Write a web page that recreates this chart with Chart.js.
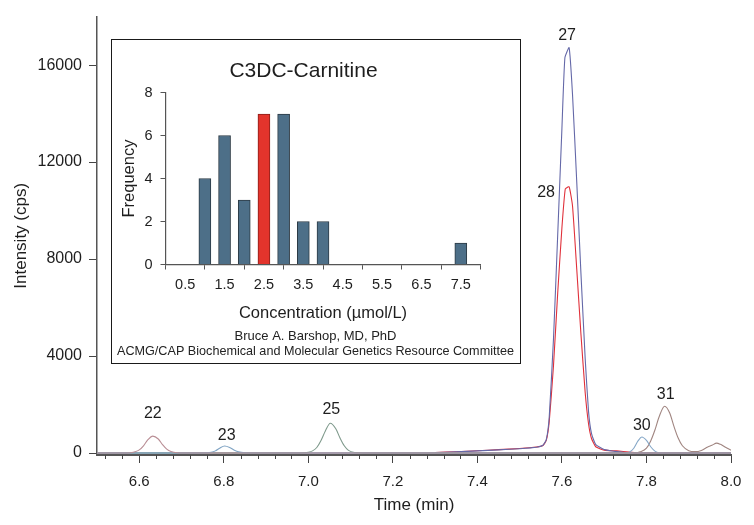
<!DOCTYPE html>
<html><head><meta charset="utf-8">
<script src="https://cdn.jsdelivr.net/npm/chart.js@4.4.1/dist/chart.umd.min.js"></script>
<style>
html,body{margin:0;padding:0;background:#fff;}
#wrap{position:relative;width:754px;height:525px;overflow:hidden;}
#main{position:absolute;left:0;top:0;}
#insetBox{position:absolute;left:111px;top:39px;width:410px;height:325px;border:1.5px solid #1a1a1a;box-sizing:border-box;background:#fff;}
#inset{position:absolute;left:0;top:0;}
</style></head>
<body>
<div id="wrap">
<canvas id="main" width="754" height="525"></canvas>
<div id="insetBox"><canvas id="inset" width="407" height="322"></canvas></div>
</div>
<script>
// ---------- Main chromatogram data ----------
const timeTicks = [6.6, 6.8, 7.0, 7.2, 7.4, 7.6, 7.8, 8.0];
const intensityTicks = [0, 4000, 8000, 12000, 16000];

const t22 = [6.50, 6.56, 6.58, 6.59, 6.60, 6.61, 6.62, 6.632, 6.645, 6.655, 6.665, 6.675, 6.69, 6.72, 8.00];
const i22 = [0, 0, 15, 50, 130, 300, 540, 700, 580, 350, 160, 60, 12, 0, 0];

const t23 = [6.50, 6.75, 6.77, 6.78, 6.79, 6.802, 6.815, 6.825, 6.835, 6.85, 6.87, 8.00];
const i23 = [0, 0, 30, 90, 200, 290, 220, 120, 50, 10, 0, 0];

const t25 = [6.50, 6.98, 7.00, 7.01, 7.02, 7.03, 7.04, 7.052, 7.065, 7.075, 7.085, 7.095, 7.11, 7.13, 8.00];
const i25 = [0, 0, 30, 90, 230, 520, 900, 1230, 1000, 620, 300, 110, 20, 0, 0];

const t27 = [7.30, 7.35, 7.40, 7.45, 7.50, 7.54, 7.555, 7.563, 7.570, 7.580, 7.590, 7.600, 7.607, 7.617, 7.625, 7.635, 7.645, 7.655, 7.663, 7.670, 7.68, 7.70, 7.73, 7.76, 8.00];
const i27 = [20, 50, 90, 130, 180, 240, 320, 550, 1500, 4700, 9000, 13400, 16300, 16720, 14800, 11200, 7400, 3900, 1700, 800, 350, 150, 60, 0, 0];

const t28 = [7.30, 7.35, 7.40, 7.45, 7.50, 7.54, 7.555, 7.563, 7.570, 7.580, 7.590, 7.600, 7.608, 7.617, 7.625, 7.635, 7.645, 7.655, 7.663, 7.670, 7.68, 7.70, 7.73, 7.76, 7.78, 8.00];
const i28 = [25, 55, 95, 140, 190, 250, 310, 520, 1300, 3600, 6600, 9300, 10900, 10980, 10200, 7600, 4900, 2500, 1200, 600, 260, 120, 90, 40, 0, 0];

const t30 = [6.50, 7.75, 7.76, 7.77, 7.78, 7.789, 7.80, 7.81, 7.82, 7.83, 7.85, 8.00];
const i30 = [0, 0, 40, 200, 500, 660, 520, 260, 80, 15, 0, 0];

const t31 = [6.50, 7.77, 7.785, 7.80, 7.81, 7.82, 7.83, 7.843, 7.855, 7.865, 7.875, 7.885, 7.90, 7.915, 7.93, 7.945, 7.955, 7.966, 7.975, 7.988, 8.00];
const i31 = [0, 0, 50, 200, 500, 950, 1500, 1930, 1650, 1100, 620, 300, 100, 60, 110, 250, 320, 410, 360, 230, 120];

const peakNames = ['22', '23', '25', '27', '28', '30', '31'];
const peakTimes = [6.632, 6.802, 7.052, 7.617, 7.617, 7.789, 7.843];
const peakHeights = [700, 290, 1230, 16720, 10980, 660, 1930];

// ---------- Inset histogram data ----------
const concBins = [1.0, 1.5, 2.0, 2.5, 3.0, 3.5, 4.0, 7.5];
const frequencies = [4, 6, 3, 7, 7, 2, 2, 1];
const patientBin = 2.5;
const concTicks = [0.5, 1.5, 2.5, 3.5, 4.5, 5.5, 6.5, 7.5];
const freqTicks = [0, 2, 4, 6, 8];
const insetTitle = 'C3DC-Carnitine';
const creditLines = ['Bruce A. Barshop, MD, PhD', 'ACMG/CAP Biochemical and Molecular Genetics Resource Committee'];

// ---------- Styling ----------
const FONT = "'Liberation Sans', Arial, Helvetica, sans-serif";
Chart.defaults.font.family = FONT;
Chart.defaults.color = '#1e1e1e';

const traceStyles = [
  {t: t22, v: i22, color: '#b98e95', tension: 0},
  {t: t23, v: i23, color: '#7fa3c3', tension: 0},
  {t: t25, v: i25, color: '#7f9a8c', tension: 0},
  {t: t30, v: i30, color: '#86a8c8', tension: 0},
  {t: t31, v: i31, color: '#a08580', tension: 0},
  {t: t27, v: i27, color: '#6468a8', tension: 0.15},
  {t: t28, v: i28, color: '#e0303a', tension: 0.15}
];

const labelOffsets = [[0,-22],[2,-10],[1,-14],[-2,-12],[-23,6],[0,-11],[1,-12]];

const minorTicksPlugin = {
  id: 'minorTicks',
  afterDraw(chart) {
    const xs = chart.scales.x, ctx = chart.ctx, y0 = chart.chartArea.bottom;
    ctx.save();
    ctx.strokeStyle = '#444'; ctx.lineWidth = 1;
    for (let k = -3; k <= 35; k++) {
      const v = 6.6 + k * 0.04;
      if (v < 6.5 - 1e-9 || v > 8.0 + 1e-9 || k % 5 === 0) continue;
      const px = Math.round(xs.getPixelForValue(v)) + 0.5;
      ctx.beginPath(); ctx.moveTo(px, y0); ctx.lineTo(px, y0 + 4); ctx.stroke();
    }
    ctx.restore();
  }
};

const peakLabelPlugin = {
  id: 'peakLabels',
  afterDatasetsDraw(chart) {
    const xs = chart.scales.x, ys = chart.scales.y, ctx = chart.ctx;
    ctx.save();
    ctx.font = '16px ' + FONT;
    ctx.fillStyle = '#1e1e1e';
    ctx.textAlign = 'center'; ctx.textBaseline = 'middle';
    peakNames.forEach((name, i) => {
      const x = xs.getPixelForValue(peakTimes[i]) + labelOffsets[i][0];
      const y = ys.getPixelForValue(peakHeights[i]) + labelOffsets[i][1];
      ctx.fillText(name, x, y);
    });
    ctx.restore();
  }
};

const insetTextPlugin = {
  id: 'insetTexts',
  afterDraw(chart) {
    const ctx = chart.ctx, cx = chart.width / 2;
    ctx.save();
    ctx.fillStyle = '#1e1e1e';
    ctx.textAlign = 'center'; ctx.textBaseline = 'middle';
    ctx.font = '21px ' + FONT;
    ctx.fillText(insetTitle, cx - 12, 31.5);
    ctx.fillStyle = '#222';
    ctx.font = '13px ' + FONT;
    creditLines.forEach((line, i) => ctx.fillText(line, cx, 296.5 + i * 15, 397));
    ctx.restore();
  }
};

new Chart(document.getElementById('main'), {
  type: 'line',
  data: {
    datasets: traceStyles.map(s => ({
      data: s.t.map((x, i) => ({x: x, y: s.v[i]})),
      borderColor: s.color,
      borderWidth: 1.1,
      pointRadius: 0,
      fill: false,
      tension: s.tension,
      cubicInterpolationMode: s.tension === 0 ? 'monotone' : 'default'
    }))
  },
  options: {
    responsive: false, animation: false, devicePixelRatio: 1,
    layout: {padding: {left: 0, right: 23, top: 13, bottom: 0}},
    plugins: {legend: {display: false}, tooltip: {enabled: false}},
    scales: {
      x: {
        type: 'linear', min: 6.5, max: 8.0,
        afterBuildTicks: s => { s.ticks = timeTicks.map(v => ({value: v})); },
        afterFit: s => { s.height = 70; },
        ticks: {font: {size: 15}, padding: 10, maxRotation: 0, autoSkip: false, callback: v => Number(v).toFixed(1), color: '#1e1e1e'},
        grid: {drawOnChartArea: false, drawTicks: true, tickLength: 8, color: '#444', lineWidth: 1},
        border: {display: true, color: '#555', width: 2},
        title: {display: true, text: 'Time (min)', font: {size: 17}, padding: {top: 0, bottom: 9}, color: '#1e1e1e'}
      },
      y: {
        min: -80, max: 18000,
        afterBuildTicks: s => { s.ticks = intensityTicks.map(v => ({value: v})); },
        afterFit: s => { s.width = 97; },
        ticks: {font: {size: 16}, padding: 7, callback: v => String(v), color: '#1e1e1e'},
        grid: {drawOnChartArea: false, drawTicks: true, tickLength: 8, color: '#444', lineWidth: 1},
        border: {display: true, color: '#555', width: 1.5},
        title: {display: true, text: 'Intensity (cps)', font: {size: 17}, padding: {top: 11, bottom: 0}, color: '#1e1e1e'}
      }
    }
  },
  plugins: [minorTicksPlugin, peakLabelPlugin]
});

new Chart(document.getElementById('inset'), {
  type: 'bar',
  data: {
    datasets: [{
      data: concBins.map((c, i) => ({x: c, y: frequencies[i]})),
      backgroundColor: concBins.map(c => c === patientBin ? '#e3342c' : '#4d6f88'),
      borderColor: concBins.map(c => c === patientBin ? '#8a1f1a' : '#2c3a44'),
      borderWidth: 1,
      barThickness: 12
    }]
  },
  options: {
    responsive: false, animation: false, devicePixelRatio: 1,
    layout: {padding: {left: 0, right: 38.5, top: 52.5, bottom: 33}},
    plugins: {legend: {display: false}, tooltip: {enabled: false}},
    scales: {
      x: {
        type: 'linear', min: 0, max: 8, offset: false,
        afterBuildTicks: s => { s.ticks = concTicks.map(v => ({value: v})); },
        afterFit: s => { s.height = 64.5; },
        ticks: {font: {size: 14.5}, padding: 6.3, maxRotation: 0, autoSkip: false, callback: v => Number(v).toFixed(1), color: '#1e1e1e'},
        grid: {drawOnChartArea: false, drawTicks: true, tickLength: 5, color: '#555'},
        border: {display: true, color: '#555', width: 1.2},
        title: {display: true, text: 'Concentration (µmol/L)', font: {size: 16.5}, padding: {top: 0, bottom: 5.6}, color: '#1e1e1e'}
      },
      y: {
        min: 0, max: 8,
        afterBuildTicks: s => { s.ticks = freqTicks.map(v => ({value: v})); },
        afterFit: s => { s.width = 53.5; },
        ticks: {font: {size: 14.5}, padding: 8, color: '#1e1e1e'},
        grid: {drawOnChartArea: false, drawTicks: true, tickLength: 5, color: '#555'},
        border: {display: true, color: '#555', width: 1.2},
        title: {display: true, text: 'Frequency', font: {size: 16.5}, padding: {top: 7.5, bottom: 0}, color: '#1e1e1e'}
      }
    }
  },
  plugins: [insetTextPlugin]
});
</script>
</body></html>
